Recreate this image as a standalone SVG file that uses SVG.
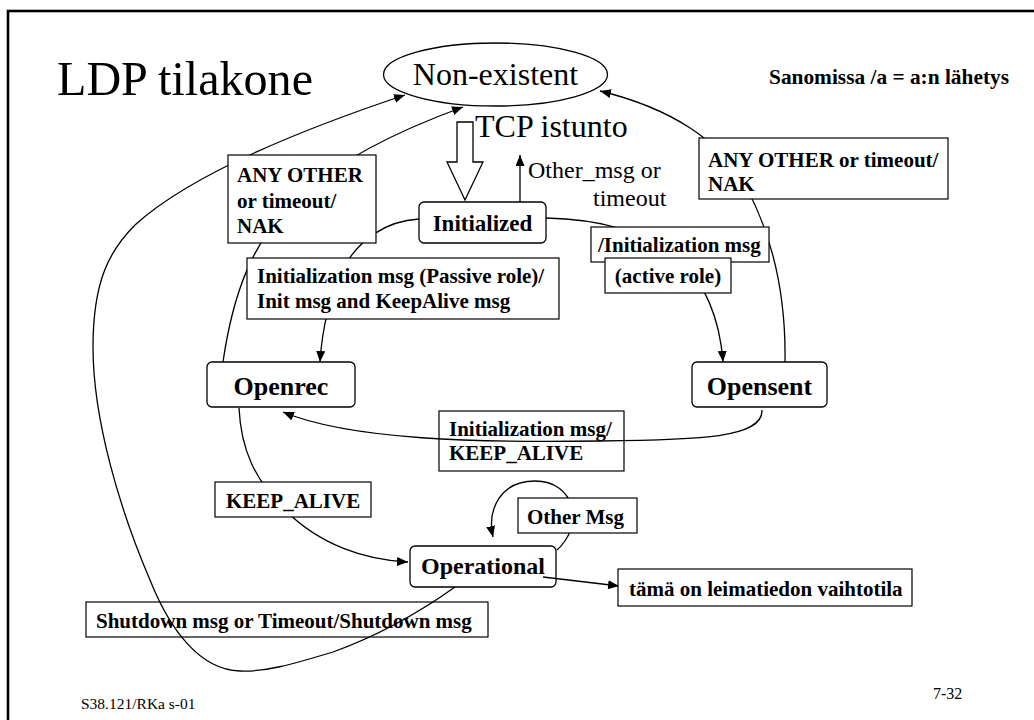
<svg xmlns="http://www.w3.org/2000/svg" width="1034" height="720" viewBox="0 0 1034 720">
<style>
.frame{fill:none;stroke:#000;stroke-width:2.6}
.state{fill:#fff;stroke:#000;stroke-width:1.3}
.lbl{fill:#fff;stroke:#000;stroke-width:1.2}
.lblo{fill:none;stroke:#000;stroke-width:1.2}
.edge{fill:none;stroke:#000;stroke-width:1.3}
.b{font-family:"Liberation Serif","Times New Roman",serif;font-weight:bold;font-size:21px;fill:#000}
.s{font-family:"Liberation Serif","Times New Roman",serif;font-weight:bold;fill:#000}
.r{font-family:"Liberation Serif","Times New Roman",serif;fill:#000}
</style>
<defs>
<marker id="ah" markerUnits="userSpaceOnUse" markerWidth="12" markerHeight="10" refX="11" refY="4.5" orient="auto">
<path d="M0,0 L11,4.5 L0,9 z" fill="#000"/>
</marker>
</defs>
<rect width="1034" height="720" fill="#fff"/>
<rect class="frame" x="8" y="11" width="1100" height="800"/>
<text class="r" x="57" y="95" font-size="49" textLength="256" lengthAdjust="spacingAndGlyphs">LDP tilakone</text>
<text class="s" x="769" y="84" font-size="21" textLength="240" lengthAdjust="spacingAndGlyphs">Sanomissa /a = a:n lähetys</text>

<g id="nonexistent">
<ellipse class="state" cx="495.5" cy="74.5" rx="112" ry="31.5"/>
<text class="r" x="495.5" y="85" font-size="32" text-anchor="middle">Non-existent</text>
</g>

<g id="initialized">
<rect class="state" x="419" y="202" width="127" height="41" rx="5"/>
<text class="s" x="482.5" y="231" font-size="23" text-anchor="middle">Initialized</text>
</g>
<g id="openrec">
<rect class="state" x="207" y="362" width="148" height="45" rx="5"/>
<text class="s" x="281" y="395" font-size="26" text-anchor="middle">Openrec</text>
</g>
<g id="opensent">
<rect class="state" x="692" y="362" width="135" height="45" rx="5"/>
<text class="s" x="759.5" y="395" font-size="26" text-anchor="middle">Opensent</text>
</g>
<g id="operational">
<rect class="state" x="410" y="546" width="146" height="41" rx="5"/>
<text class="s" x="483" y="574" font-size="24" text-anchor="middle">Operational</text>
</g>

<g id="tcp">
<polygon points="457,122 473,122 473,162 483,162 465,200 447,162 457,162" fill="#fff" stroke="#000" stroke-width="1.3"/>
<text class="r" x="475" y="137" font-size="32">TCP istunto</text>
</g>

<g id="connectors">
<path class="edge" marker-end="url(#ah)" d="M455,587 C420,612 380,635 333,652 C290,665 265,672 240,671 C200,670 170,630 150,580 C120,510 93,420 93,347 C93,280 110,250 135,225 C190,175 300,130 405,95"/>
<path class="edge" marker-end="url(#ah)" d="M223,362 C232,300 250,240 300,195 C340,160 400,130 463,107"/>
<path class="edge" marker-end="url(#ah)" d="M785,362 C786,300 775,240 745,185 C720,140 670,108 600,91"/>
<path class="edge" marker-end="url(#ah)" d="M419,219 C385,221 360,240 345,265 C330,292 322,330 320,362"/>
<path class="edge" marker-end="url(#ah)" d="M546,218 C600,219 645,232 675,255 C705,280 720,320 723,362"/>
<path class="edge" marker-end="url(#ah)" d="M762,410 C763,438 700,440 600,441 C480,443 350,440 283,412"/>
<path class="edge" marker-end="url(#ah)" d="M239,408 C241,450 255,480 285,510 C320,545 365,560 408,562"/>
<path class="edge" marker-end="url(#ah)" d="M557,550 C585,525 575,481 535,481 C500,481 487,510 493,537"/>
<path class="edge" marker-end="url(#ah)" d="M543,577 L619,586"/>
<path class="edge" marker-end="url(#ah)" d="M520,202 L520,155"/>
</g>

<g id="lbl-other-msg-timeout">
<text class="r" x="528" y="178" font-size="24">Other_msg or</text>
<text class="r" x="593" y="206" font-size="24">timeout</text>
</g>
<g id="lbl-any-left">
<rect class="lbl" x="228" y="155" width="148" height="88"/>
<text class="b" x="237" y="182">ANY OTHER</text>
<text class="b" x="237" y="208">or timeout/</text>
<text class="b" x="237" y="233">NAK</text>
</g>
<g id="lbl-any-right">
<rect class="lbl" x="699" y="138" width="249" height="61"/>
<text class="b" x="708" y="167">ANY OTHER or timeout/</text>
<text class="b" x="708" y="191">NAK</text>
</g>
<g id="lbl-init-msg">
<rect class="lbl" x="591" y="227" width="178" height="35"/>
<text class="b" x="598" y="252">/Initialization msg</text>
</g>
<g id="lbl-active">
<rect class="lbl" x="605" y="258" width="126" height="35"/>
<text class="b" x="668" y="283" text-anchor="middle">(active role)</text>
</g>
<g id="lbl-passive">
<rect class="lbl" x="247" y="258" width="312" height="61"/>
<text class="b" x="257" y="283">Initialization msg (Passive role)/</text>
<text class="b" x="257" y="308">Init msg and KeepAlive msg</text>
</g>
<g id="lbl-init-keep">
<rect class="lblo" x="439" y="411" width="185" height="60"/>
<text class="b" x="449" y="436">Initialization msg/</text>
<text class="b" x="449" y="460">KEEP_ALIVE</text>
</g>
<g id="lbl-other">
<rect class="lbl" x="518" y="498" width="119" height="35"/>
<text class="b" x="527" y="524">Other Msg</text>
</g>
<g id="lbl-keepalive">
<rect class="lbl" x="215" y="482" width="156" height="35"/>
<text class="b" x="226" y="508">KEEP_ALIVE</text>
</g>
<g id="lbl-shutdown">
<rect class="lblo" x="86" y="602" width="402" height="35"/>
<text class="b" x="96" y="628">Shutdown msg or Timeout/Shutdown msg</text>
</g>
<g id="lbl-tama">
<rect class="lbl" x="618" y="569" width="294" height="37"/>
<text class="b" x="629" y="596">tämä on leimatiedon vaihtotila</text>
</g>

<text class="r" x="81" y="709" font-size="15.5">S38.121/RKa s-01</text>
<text class="r" x="933" y="699" font-size="16">7-32</text>
</svg>
